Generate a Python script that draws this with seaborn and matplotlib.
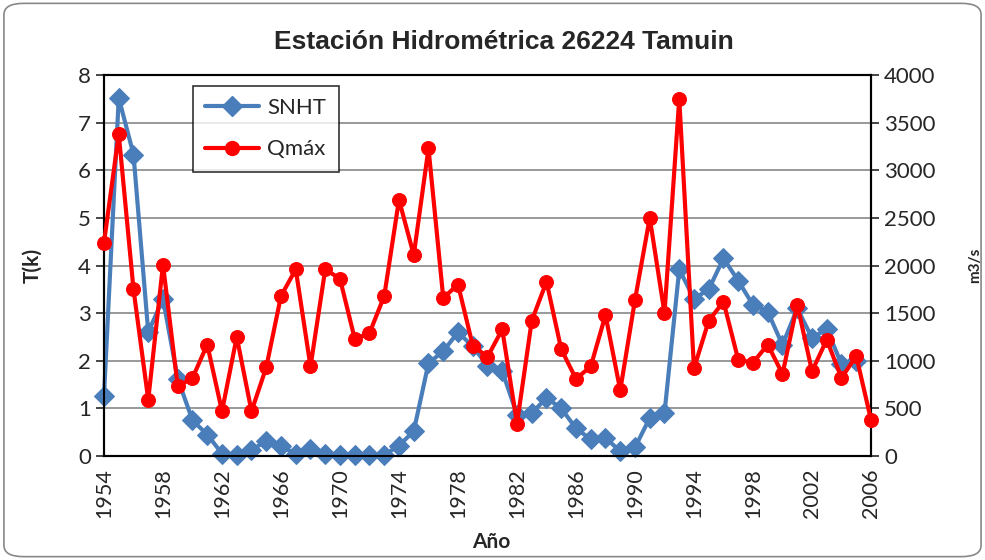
import numpy as np
import pandas as pd
import matplotlib
matplotlib.use('Agg')
import matplotlib.pyplot as plt
import seaborn as sns
from matplotlib.patches import FancyBboxPatch
from matplotlib.lines import Line2D

years_snht = list(range(1954, 2006))
snht = [1.27, 7.52, 6.33, 2.6, 3.3, 1.62, 0.75, 0.45, 0.05, 0.02,
        0.12, 0.32, 0.2, 0.05, 0.15, 0.05, 0.02, 0.02, 0.02, 0.02,
        0.22, 0.52, 1.95, 2.2, 2.6, 2.3, 1.9, 1.78, 0.87, 0.9,
        1.22, 1.0, 0.58, 0.35, 0.38, 0.1, 0.18, 0.8, 0.9, 3.92,
        3.3, 3.5, 4.15, 3.68, 3.17, 3.03, 2.33, 3.1, 2.48, 2.67,
        1.93, 2.0]

years_q = list(range(1954, 2007))
qmax = [2240, 3380, 1750, 590, 2010, 730, 820, 1170, 470, 1250,
        470, 930, 1680, 1960, 940, 1960, 1860, 1230, 1290, 1680,
        2690, 2110, 3230, 1660, 1800, 1160, 1040, 1330, 340, 1420,
        1830, 1120, 810, 940, 1480, 690, 1640, 2500, 1500, 3750,
        920, 1420, 1620, 1010, 980, 1170, 860, 1590, 890, 1220,
        820, 1050, 380]

sns.set_style('white')
plt.rcParams['font.family'] = ['Lato', 'DejaVu Sans']

blue = '#4A7EBB'
red = '#FF0000'

snht_df = pd.DataFrame({'year': years_snht, 'T': snht})
q_df = pd.DataFrame({'year': years_q, 'Q': qmax})

fig = plt.figure(figsize=(9.85, 5.6), dpi=100)
ax = fig.add_axes([104/985, 1 - 456/560, (871-104)/985, (456-75)/560])
ax2 = ax.twinx()

sns.lineplot(data=snht_df, x='year', y='T', ax=ax, color=blue, lw=3,
             marker='D', markersize=10, markeredgecolor=blue, zorder=3,
             clip_on=False)
sns.lineplot(data=q_df, x='year', y='Q', ax=ax2, color=red, lw=3,
             marker='o', markersize=10, markeredgecolor=red, zorder=3,
             clip_on=False)

ax.set_xlim(1954, 2006)
ax.set_ylim(0, 8)
ax2.set_ylim(0, 4000)
ax.set_yticks(range(0, 9))
ax2.set_yticks(range(0, 4001, 500))
ax.yaxis.grid(True, color='#888888', lw=1.2)
ax.set_axisbelow(True)

ax.set_xticks(years_q)
ax.set_xticklabels([str(y) if (y - 1954) % 4 == 0 else '' for y in years_q],
                   rotation=90, fontsize=15.5)
ax.tick_params(axis='x', direction='out', length=6, width=1.2, pad=3)
ax.tick_params(axis='y', direction='out', length=6, width=1.2, labelsize=16)
ax2.tick_params(axis='y', direction='out', length=6, width=1.2, labelsize=16)

for a in (ax, ax2):
    for s in a.spines.values():
        s.set_color('black')
        s.set_linewidth(1.5)

ax.set_xlabel('Año', fontsize=15, fontweight='bold')
ax.xaxis.set_label_coords(0.505, -0.2)
ax.set_ylabel('T(k)', fontsize=15, fontweight='bold')
ax.yaxis.set_label_coords(-0.08, 0.5)
ax2.set_ylabel('m3/s', fontsize=11, fontweight='bold')
ax2.yaxis.set_label_coords(1.126, 0.5)
ax.set_title('Estación Hidrométrica 26224 Tamuin', fontsize=19, x=0.522,
             fontweight='bold', pad=19, family=['Liberation Sans', 'DejaVu Sans'])

handles = [Line2D([], [], color=blue, lw=3, marker='D', markersize=10),
           Line2D([], [], color=red, lw=3, marker='o', markersize=10)]
leg = ax.legend(handles, ['SNHT', 'Qmáx'], loc='upper left',
                bbox_to_anchor=(0.116, 0.971), borderaxespad=0, fontsize=16,
                frameon=True, fancybox=False, edgecolor='black',
                handlelength=2.4, handletextpad=0.4, labelspacing=0.95,
                borderpad=0.55)
leg.get_frame().set_linewidth(1.2)

border = FancyBboxPatch((0.004, 0.006), 0.992, 0.988,
                        boxstyle='round,pad=0,rounding_size=0.02',
                        transform=fig.transFigure, fill=False,
                        edgecolor='#888888', lw=1.2)
fig.patches.append(border)

fig.savefig('out.png', dpi=100)
